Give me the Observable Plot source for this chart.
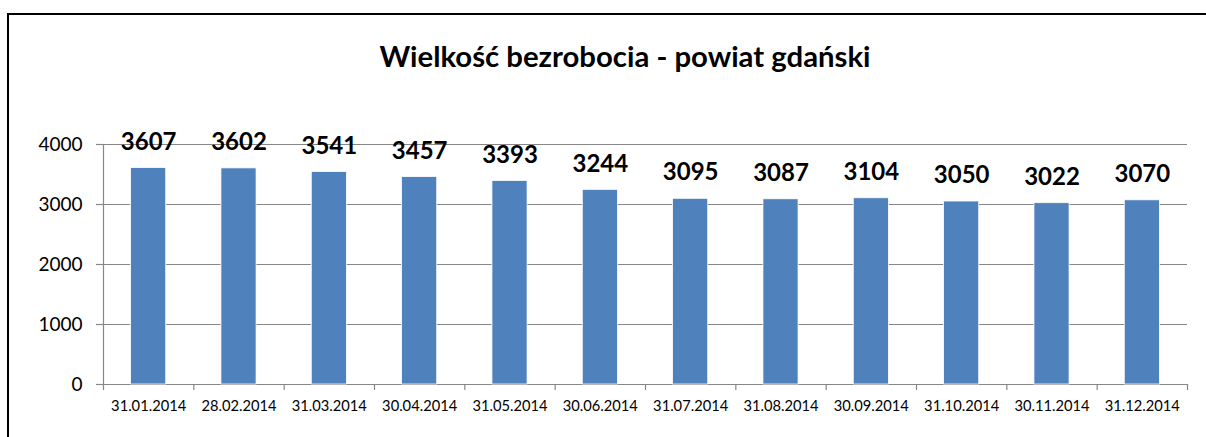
<!DOCTYPE html>
<html>
<head>
<meta charset="utf-8">
<script src="https://cdn.jsdelivr.net/npm/d3@7"></script>
<script src="https://cdn.jsdelivr.net/npm/@observablehq/plot@0.6"></script>
<style>
  html, body { margin: 0; padding: 0; background: #fff; overflow: hidden; width: 1206px; height: 437px; }
  body { position: relative; font-family: Lato, "Open Sans", sans-serif; }
  #frame { position: absolute; left: 7px; top: 13px; width: 1232px; height: 460px; border: 2px solid #000; box-sizing: content-box; }
  #title { position: absolute; left: 9px; width: 1232px; top: 39px; text-align: center; font: bold 29.3px/34px Lato, sans-serif; color: #000; }
  #chart { position: absolute; left: 0; top: 0; }
</style>
</head>
<body>
<div id="frame"></div>
<div id="title">Wielkość bezrobocia - powiat gdański</div>
<div id="chart"></div>
<script>
const dates = ["31.01.2014","28.02.2014","31.03.2014","30.04.2014","31.05.2014","30.06.2014","31.07.2014","31.08.2014","30.09.2014","31.10.2014","30.11.2014","31.12.2014"];
const values = [3607, 3602, 3541, 3457, 3393, 3244, 3095, 3087, 3104, 3050, 3022, 3070];
const yTicks = [0, 1000, 2000, 3000, 4000];

const data = dates.map((d, i) => ({date: d, value: values[i], i}));
const boundaries = d3.range(dates.length + 1);

const grid = "#878787";
const chart = Plot.plot({
  width: 1206,
  height: 437,
  marginLeft: 103,
  marginRight: 19,
  marginTop: 144,
  marginBottom: 53,
  style: {fontFamily: "Lato, sans-serif", background: "transparent", overflow: "visible"},
  x: {type: "linear", domain: [0, dates.length], axis: null},
  y: {domain: [0, 4000], axis: null},
  marks: [
    Plot.ruleY(yTicks, {stroke: grid, strokeWidth: 1.2}),
    Plot.ruleX([0], {stroke: grid, strokeWidth: 1.2}),
    Plot.axisX({ticks: boundaries, tickFormat: () => "", tickSize: 6, stroke: grid, strokeWidth: 1.2, strokeOpacity: 1, label: null}),
    Plot.axisY({ticks: yTicks, tickSize: 7, tickPadding: 14, fontSize: 19, stroke: grid, strokeWidth: 1.2, strokeOpacity: 1, fill: "#000", tickFormat: d => String(d), label: null}),
    Plot.rectY(data, {x1: d => d.i, x2: d => d.i + 1, y1: 0, y2: "value", insetLeft: 27.6, insetRight: 27.6, fill: "#4F81BD", stroke: "#ffffff", strokeWidth: 0.8, style: "filter: drop-shadow(0 0 1.5px rgba(0,0,0,0.35))"}),
    Plot.text(data, {x: d => d.i + 0.5, y: "value", text: d => String(d.value), dy: -26, lineAnchor: "middle", fontSize: 24, fontWeight: "bold", fill: "#000"}),
    Plot.text(data, {x: d => d.i + 0.5, frameAnchor: "bottom", text: "date", dy: 22, lineAnchor: "middle", fontSize: 14.7, fill: "#000"})
  ]
});
document.getElementById("chart").appendChild(chart);
</script>
</body>
</html>
